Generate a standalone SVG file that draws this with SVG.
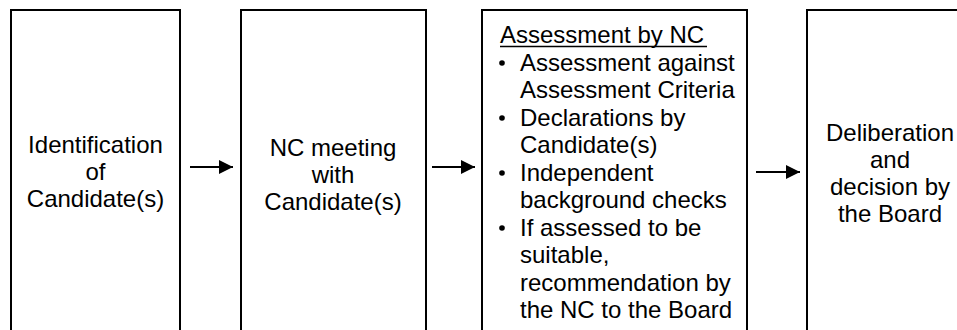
<svg xmlns="http://www.w3.org/2000/svg" width="957" height="330" viewBox="0 0 957 330">
<style>
.box{fill:#fff;stroke:#000;stroke-width:2}
.t{font-family:"Liberation Sans",Arial,sans-serif;font-size:24px;fill:#000}
.c{text-anchor:middle}
.ln{stroke:#000;stroke-width:2;fill:none}
</style>
<defs>
<marker id="ah" viewBox="0 0 14 14" refX="14" refY="7" markerWidth="14" markerHeight="14" markerUnits="userSpaceOnUse" orient="auto">
<path d="M0,0 L14,7 L0,14 Z" fill="#000"/>
</marker>
</defs>
<rect width="957" height="330" fill="#fff"/>
<g id="node1">
<rect class="box" x="11" y="10" width="169" height="340"/>
<text class="t c" x="95.5" y="153">Identification</text>
<text class="t c" x="95.5" y="180">of</text>
<text class="t c" x="95.5" y="207">Candidate(s)</text>
</g>
<g id="node2">
<rect class="box" x="241" y="10" width="185" height="340"/>
<text class="t c" x="333" y="156">NC meeting</text>
<text class="t c" x="333" y="183">with</text>
<text class="t c" x="333" y="210">Candidate(s)</text>
</g>
<g id="node3">
<rect class="box" x="482" y="10" width="265" height="340"/>
<text class="t" x="500" y="43">Assessment by NC</text>
<line x1="500" y1="46.5" x2="707" y2="46.5" stroke="#000" stroke-width="1.6"/>
<g fill="#000">
<circle cx="502" cy="63" r="2.8"/>
<circle cx="502" cy="118" r="2.8"/>
<circle cx="502" cy="173" r="2.8"/>
<circle cx="502" cy="228" r="2.8"/>
</g>
<text class="t" x="520" y="70.5">Assessment against</text>
<text class="t" x="520" y="98">Assessment Criteria</text>
<text class="t" x="520" y="125.5">Declarations by</text>
<text class="t" x="520" y="153">Candidate(s)</text>
<text class="t" x="520" y="180.5">Independent</text>
<text class="t" x="520" y="208">background checks</text>
<text class="t" x="520" y="235.5">If assessed to be</text>
<text class="t" x="520" y="263">suitable,</text>
<text class="t" x="520" y="290.5">recommendation by</text>
<text class="t" x="520" y="318">the NC to the Board</text>
</g>
<g id="node4">
<rect class="box" x="807" y="10" width="200" height="340"/>
<text class="t c" x="890" y="141">Deliberation</text>
<text class="t c" x="890" y="168">and</text>
<text class="t c" x="890" y="195">decision by</text>
<text class="t c" x="890" y="222">the Board</text>
</g>
<g id="connectors">
<line class="ln" x1="190" y1="167" x2="233" y2="167" marker-end="url(#ah)"/>
<line class="ln" x1="432" y1="167" x2="475" y2="167" marker-end="url(#ah)"/>
<line class="ln" x1="756" y1="172" x2="800" y2="172" marker-end="url(#ah)"/>
</g>
</svg>
